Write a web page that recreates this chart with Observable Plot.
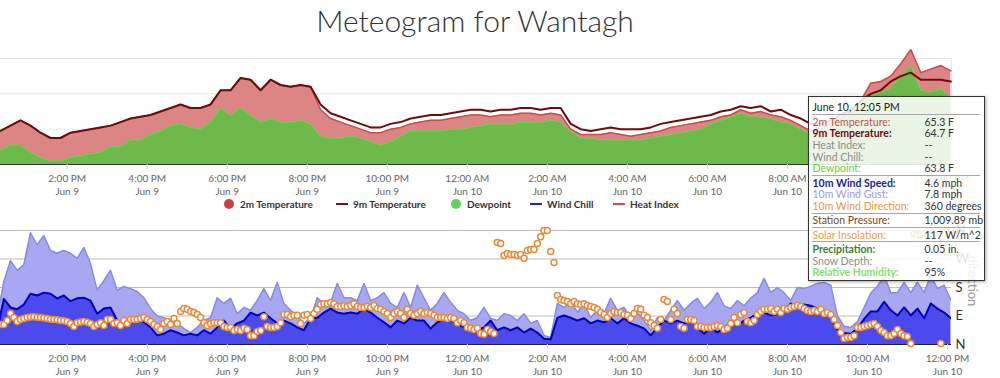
<!DOCTYPE html>
<html>
<head>
<meta charset="utf-8">
<script src="https://cdn.jsdelivr.net/npm/d3@7"></script>
<script src="https://cdn.jsdelivr.net/npm/@observablehq/plot@0.6"></script>
<style>
  body { margin: 0; background: #fff; font-family: Lato, "Open Sans", sans-serif; }
  #wrap { position: relative; width: 1000px; height: 378px; overflow: hidden; background: #fff; }
  #title { position: absolute; left: 0; width: 950px; top: 2px; text-align: center; font-size: 30px; font-weight: 300; color: #333; line-height: 36px; white-space: nowrap; }
  #topChart { position: absolute; left: 0; top: 0; }
  #botChart { position: absolute; left: 0; top: 212px; }
  .leg { position: absolute; top: 197px; height: 14px; display: flex; align-items: center; font-size: 10px; font-weight: 700; color: #333; white-space: nowrap; }
  .leg .dot { width: 10px; height: 10px; border-radius: 50%; margin-right: 6px; }
  .leg .ln { width: 12px; height: 2px; margin-right: 5px; }
  #dirTitle { position: absolute; left: 973px; top: 281px; transform: translate(-50%, -50%) rotate(90deg); font-size: 13px; color: #999; white-space: nowrap; }
  #tip { position: absolute; left: 808px; top: 96px; width: 177px; height: 185px; box-sizing: border-box; border: 1.5px solid #333; background: rgba(255,255,255,0.86); box-shadow: 1px 1px 3px rgba(0,0,0,0.35); font-size: 10.5px; }
  #tip .row { position: absolute; height: 12px; line-height: 12px; white-space: nowrap; }
  #tip .sep { position: absolute; left: 3px; width: 168px; height: 0; border-top: 1.5px solid #a8a8a8; }
</style>
</head>
<body>
<div id="wrap">
  <div id="title"></div>
  <div id="topChart"></div>
  <div id="botChart"></div>
  <div id="legend"></div>
  <div id="dirTitle"></div>
  <div id="tip"></div>
</div>
<script>
// ---------------- DATA ----------------
const chartTitle = "Meteogram for Wantagh";

// temperatures (F), every 15 minutes from 12:20 PM Jun 9 to 12:05 PM Jun 10
const tempStart = "2019-06-09T12:20:00Z";
const tempStepMinutes = 15;
const temp2m = [61.9,62.2,62.5,62.2,61.8,61.5,61.5,61.8,61.9,62.0, 62.1,62.2,62.4,62.6,62.7,62.8,63.0,63.2,63.4,63.2,
  63.2,63.4,64.2,64.2,64.9,64.8,64.2,64.8,64.5,64.4, 64.5,64.4,63.1,62.6,62.4,62.2,62.0,61.8,61.8,62.0,
  62.1,62.3,62.4,62.5,62.5,62.6,62.7,62.8,62.8,62.7, 62.8,62.8,62.9,62.9,62.8,62.9,62.8,62.0,61.7,61.7,
  61.7,61.8,61.7,61.6,61.7,61.8,61.9,62.1,62.2,62.3, 62.4,62.5,62.7,62.8,63.1,62.9,63.0,62.8,62.7,62.5,
  62.2,61.9,62.0,62.3,62.6,63.0,63.6,64.6,64.7,65.0, 65.7,66.5,65.2,65.4,65.6,65.3];
const temp9m = [61.9,62.2,62.5,62.2,61.8,61.5,61.5,61.8,61.9,62.0, 62.1,62.2,62.4,62.6,62.7,62.8,63.0,63.2,63.4,63.2,
  63.2,63.4,64.2,64.2,64.9,64.8,64.2,64.8,64.5,64.4, 64.5,64.4,63.4,62.9,62.7,62.5,62.3,62.1,62.1,62.3,
  62.4,62.6,62.7,62.8,62.8,62.9,63.0,63.1,63.1,63.0, 63.1,63.1,63.2,63.2,63.1,63.2,63.2,62.3,62.0,61.9,
  62.0,62.1,62.0,62.0,62.0,62.1,62.3,62.4,62.5,62.6, 62.7,62.8,63.0,63.1,63.3,63.2,63.3,63.0,63.1,62.8,
  62.6,62.3,62.3,62.5,62.8,63.1,63.6,64.0,64.2,64.7, 65.0,65.2,64.8,64.8,64.8,64.7];
const dewpoint = [60.8,61.1,61.1,60.7,60.4,60.2,60.2,60.4,60.5,60.6, 60.7,61.0,61.0,61.4,61.4,61.7,61.9,62.2,62.3,62.1,
  62.0,62.4,63.2,62.8,63.2,62.8,62.4,62.6,62.4,62.4, 62.5,62.3,61.6,61.5,61.5,61.6,61.5,61.3,61.1,61.3,
  61.6,61.9,61.9,61.9,61.9,62.0,62.0,62.1,62.2,62.3, 62.3,62.3,62.4,62.4,62.4,62.5,62.4,61.9,61.5,61.5,
  61.4,61.4,61.4,61.4,61.4,61.5,61.6,61.7,61.8,61.9, 62.0,62.3,62.5,62.7,62.9,62.7,62.7,62.6,62.4,62.3,
  62.0,61.7,61.9,62.2,62.4,62.9,63.5,63.9,64.1,64.3, 65.0,65.6,64.2,64.1,64.3,63.8];

// wind (mph), every 10 minutes from 12:15 PM Jun 9 to 12:05 PM Jun 10
const windStart = "2019-06-09T12:15:00Z";
const windStepMinutes = 10;
const windGust = [4.7,11.0,14.7,13.0,14.0,19.6,17.5,19.1,16.5,16.0, 16.5,16.0,15.1,17.0,14.2,9.5,11.2,13.0,9.5,10.2,
  9.8,9.3,8.2,6.3,5.0,4.7,4.2,3.7,2.8,2.1, 3.0,4.2,4.7,8.2,7.2,8.1,5.4,6.5,6.0,7.7,
  9.8,7.7,10.9,7.2,6.0,5.1,3.7,4.6,8.2,7.2, 7.4,10.7,8.2,8.2,7.7,10.7,7.7,8.2,9.1,7.2,
  6.5,9.1,6.5,10.4,8.2,6.0,7.2,9.1,7.4,6.0, 5.4,4.2,4.7,6.5,4.6,4.2,5.4,5.1,4.2,5.4,
  3.7,4.2,1.6,1.2,7.2,6.5,7.7,5.6,7.2,4.7, 6.0,5.4,8.1,6.0,6.5,4.7,5.6,4.2,2.5,4.7,
  4.2,6.0,7.7,6.0,7.2,8.1,6.3,7.4,9.1,6.8, 6.3,7.7,6.8,8.1,9.1,11.6,9.1,10.0,9.1,7.7,
  10.0,9.8,10.2,10.7,10.9,10.4,5.0,3.2,3.0,4.0, 6.5,9.0,10.2,12.1,9.1,9.1,10.9,9.1,10.9,9.1,
  12.1,9.8,10.4,7.8];
const windSpeed = [2.5,8.0,6.5,6.2,7.0,8.9,8.6,9.1,8.9,8.1, 8.6,7.6,8.1,8.2,7.7,5.4,6.3,6.5,4.2,3.9,
  4.2,4.6,3.9,3.0,1.6,1.9,2.5,2.1,1.6,1.9, 1.6,2.5,1.9,3.0,4.2,2.8,3.7,4.2,5.6,5.1,
  5.6,4.6,3.7,4.2,3.7,3.0,2.5,4.6,4.7,5.6, 6.3,5.6,5.4,5.6,5.4,6.3,5.6,4.7,3.9,3.0,
  4.2,3.7,4.7,4.2,4.2,2.8,3.9,4.6,4.2,3.7, 3.0,2.5,2.5,3.0,4.2,2.5,3.0,2.5,3.0,2.1,
  2.8,2.1,1.0,0.9,4.7,5.1,4.7,4.2,4.6,3.7, 4.2,3.9,4.6,3.7,4.6,3.7,3.3,2.8,1.6,3.0,
  4.2,3.7,4.2,3.7,4.2,3.0,1.9,3.0,2.1,3.0, 3.7,3.3,4.2,4.7,5.4,5.6,5.1,5.4,6.0,7.2,
  6.8,7.0,6.8,6.3,5.8,5.0,2.6,2.0,1.9,2.8, 4.5,5.8,5.8,7.5,6.0,5.1,6.5,5.1,6.3,4.6,
  7.2,6.3,5.6,4.6];

// wind direction (degrees), every 5 minutes from 12:20 PM Jun 9 to 12:05 PM Jun 10
const dirStart = "2019-06-09T12:20:00Z";
const dirStepMinutes = 5;
const windDirection = [63,63,76,98,85,73,79,82,85,87, 88,86,85,84,82,80,79,78,76,75,
  73,66,57,69,71,73,70,66,57,63, 69,60,79,79,66,69,60,76,66,79,
  79,80,82,85,79,73,63,57,47,66, 73,63,82,66,104,114,111,104,101,95,
  85,69,60,66,69,69,69,57,54,54, 44,47,44,51,47,28,28,41,44,88,
  57,54,54,57,69,95,95,88,92,92, 66,92,95,82,98,111,126,129,129,133,
  129,120,120,122,120,123,129,120,117,117, 120,117,123,114,111,104,98,85,98,104,
  98,85,111,98,92,98,104,98,101,98, 92,85,85,85,82,85,82,69,76,69,
  54,51,47,51,35,32,47,41,35,322, 319,281,287,284,284,281,284,272,297,300,
  300,319,340,360,360,294,259,155,142,139, 136,129,136,129,126,129,123,120,117,111,
  101,95,85,98,104,101,101,95,92,82, 98,114,111,92,85,69,60,51,79,142,
  136,79,111,98,57,51,79,79,76,57, 57,54,54,54,57,60,57,47,51,66,
  85,69,95,101,73,69,76,95,104,111, 111,114,104,111,101,114,111,117,120,123,
  120,114,107,104,107,104,111,98,101,95, 79,60,38,19,22,22,28,54,54,57,
  60,63,66,57,44,38,28,28,35,47, 35,28,25,3,350,345,348,352,346,350,
  355,358,3,358,360,360];

const compassLabels = ["N", "E", "S", "W", "N"];
const directionAxisTitle = "direction";

const legendNames = ["2m Temperature", "9m Temperature", "Dewpoint", "Wind Chill", "Heat Index"];
const legendSymbols = ["dot", "line", "dot", "line", "line"];

const tooltipHeader = "June 10, 12:05 PM";
const tooltipRows = [
  ["2m Temperature:", "65.3 F"], ["9m Temperature:", "64.7 F"], ["Heat Index:", "--"], ["Wind Chill:", "--"], ["Dewpoint:", "63.8 F"],
  ["10m Wind Speed:", "4.6 mph"], ["10m Wind Gust:", "7.8 mph"], ["10m Wind Direction:", "360 degrees"],
  ["Station Pressure:", "1,009.89 mb"],
  ["Solar Insolation:", "117 W/m^2"],
  ["Precipitation:", "0.05 in."], ["Snow Depth:", "--"], ["Relative Humidity:", "95%"]
];
const tooltipGroups = [0,0,0,0,0, 1,1,1, 2, 3, 4,4,4];

// ---------------- STYLES ----------------
const legendColors = ["#cc4040", "#7a1111", "#5fd35f", "#2222cc", "#e04848"];
const legendLeft = [224, 336, 451, 530, 613];
const tipStyle = {
  "2m Temperature:": ["#c44e4e", 400], "9m Temperature:": ["#6a0d0d", 700], "Heat Index:": ["#8c8c8c", 400],
  "Wind Chill:": ["#8c8c8c", 400], "Dewpoint:": ["#6ad04a", 400], "10m Wind Speed:": ["#1c1ca8", 700],
  "10m Wind Gust:": ["#9c9ce8", 400], "10m Wind Direction:": ["#e8963c", 400], "Station Pressure:": ["#6e4a2c", 400],
  "Solar Insolation:": ["#e8a048", 400], "Precipitation:": ["#3f7d2a", 700], "Snow Depth:": ["#8c8c8c", 400],
  "Relative Humidity:": ["#86e070", 700]
};

// ---------------- BUILD ----------------
const at = (start, step) => i => new Date(Date.parse(start) + i * step * 60000);
const tTime = at(tempStart, tempStepMinutes), wTime = at(windStart, windStepMinutes), dTime = at(dirStart, dirStepMinutes);
const temps = temp2m.map((v, i) => ({time: tTime(i), t2: v, t9: temp9m[i], dew: dewpoint[i]}));
const winds = windSpeed.map((v, i) => ({time: wTime(i), speed: v, gust: windGust[i]}));
const dirs = windDirection.map((v, i) => ({time: dTime(i), dir: v}));

const xDomain = [new Date("2019-06-09T12:20:00Z"), new Date("2019-06-10T12:06:00Z")];
const xTicks = d3.utcHour.every(2).range(xDomain[0], xDomain[1]);
const fmtTick = d => d3.utcFormat("%-I:%M %p")(d) + "\n" + d3.utcFormat("%b %-d")(d);
const axisOpts = {tickFormat: fmtTick, tickSize: 5, tickPadding: 3, stroke: "#ccd6eb", fill: "#666", fontSize: 10, lineHeight: 1.3, label: null};

document.getElementById("title").textContent = chartTitle;

const topPlot = Plot.plot({
  width: 1000, height: 200, marginTop: 58, marginBottom: 36, marginLeft: 0, marginRight: 49,
  style: {fontFamily: "Lato, sans-serif", fontSize: "10px", background: "transparent", overflow: "visible"},
  x: {type: "utc", domain: xDomain, axis: null},
  y: {domain: [60, 66], axis: null},
  marks: [
    Plot.gridY([62, 64, 66], {stroke: "#e6e6e6", strokeOpacity: 1}),
    Plot.ruleX([xDomain[1]], {stroke: "#e6e6e6"}),
    Plot.areaY(temps, {x: "time", y1: 60, y2: "t2", fill: "#dc8585"}),
    Plot.lineY(temps, {x: "time", y: "t2", stroke: "#cf4a4a", strokeWidth: 1.5}),
    Plot.areaY(temps, {x: "time", y1: 60, y2: "dew", fill: "#6db94a"}),
    Plot.lineY(temps, {x: "time", y: "dew", stroke: "#7ad058", strokeWidth: 1}),
    Plot.lineY(temps, {x: "time", y: "t9", stroke: "#6e0b0b", strokeWidth: 2}),
    Plot.ruleY([60], {stroke: "#333"}),
    Plot.axisX(xTicks, axisOpts)
  ]
});
document.getElementById("topChart").append(topPlot);

const botPlot = Plot.plot({
  width: 1000, height: 166, marginTop: 18, marginBottom: 34, marginLeft: 0, marginRight: 49,
  style: {fontFamily: "Lato, sans-serif", fontSize: "10px", background: "transparent", overflow: "visible"},
  x: {type: "utc", domain: xDomain, axis: null},
  y: {domain: [0, 20], axis: null},
  marks: [
    Plot.gridY([0, 5, 10, 15, 20], {stroke: "#bdbdbd", strokeOpacity: 1}),
    Plot.areaY(winds, {x: "time", y: "gust", fill: "#a8a8f2", clip: true}),
    Plot.lineY(winds, {x: "time", y: "gust", stroke: "#8a8ae6", strokeWidth: 1.5, clip: true}),
    Plot.areaY(winds, {x: "time", y: "speed", fill: "#4a4aee", clip: true}),
    Plot.lineY(winds, {x: "time", y: "speed", stroke: "#0000c4", strokeWidth: 2, clip: true}),
    Plot.ruleY([0], {stroke: "#222"}),
    Plot.dot(dirs, {x: "time", y: d => d.dir / 18, r: 3, fill: "white", stroke: "#e8893a", strokeWidth: 1.5}),
    Plot.axisX(xTicks, axisOpts),
    Plot.axisY([0, 5, 10, 15, 20], {anchor: "right", tickFormat: d => compassLabels[d / 5], tickSize: 0, tickPadding: 4, fontSize: 13, fill: "#333", label: null})
  ]
});
document.getElementById("botChart").append(botPlot);

// legend
const legendBox = document.getElementById("legend");
legendNames.forEach((name, i) => {
  const item = document.createElement("div");
  item.className = "leg";
  item.style.left = legendLeft[i] + "px";
  const sym = document.createElement("span");
  sym.className = legendSymbols[i] === "dot" ? "dot" : "ln";
  sym.style.background = legendColors[i];
  const txt = document.createElement("span");
  txt.textContent = name;
  item.append(sym, txt);
  legendBox.append(item);
});

document.getElementById("dirTitle").textContent = directionAxisTitle;

// tooltip
const tipBox = document.getElementById("tip");
const boxTop = 96 + 1.5, boxLeft = 808 + 1.5;
function addRow(text, centerY, left, color, weight) {
  const d = document.createElement("div");
  d.className = "row";
  d.textContent = text;
  d.style.top = (centerY - boxTop - 6) + "px";
  d.style.left = (left - boxLeft) + "px";
  d.style.color = color;
  d.style.fontWeight = weight;
  tipBox.append(d);
}
function addSep(y) {
  const s = document.createElement("div");
  s.className = "sep";
  s.style.top = (y - boxTop) + "px";
  tipBox.append(s);
}
addRow(tooltipHeader, 107, 813, "#222", 400);
addSep(114);
tooltipRows.forEach(([label, value], i) => {
  const cy = 122 + 11.7 * i + 2.6 * tooltipGroups[i];
  const [c, w] = tipStyle[label];
  addRow(label, cy, 813, c, w);
  addRow(value, cy, 925, "#333", 400);
  if (i < tooltipRows.length - 1 && tooltipGroups[i + 1] !== tooltipGroups[i]) addSep(cy + 6.8);
});
</script>
</body>
</html>
